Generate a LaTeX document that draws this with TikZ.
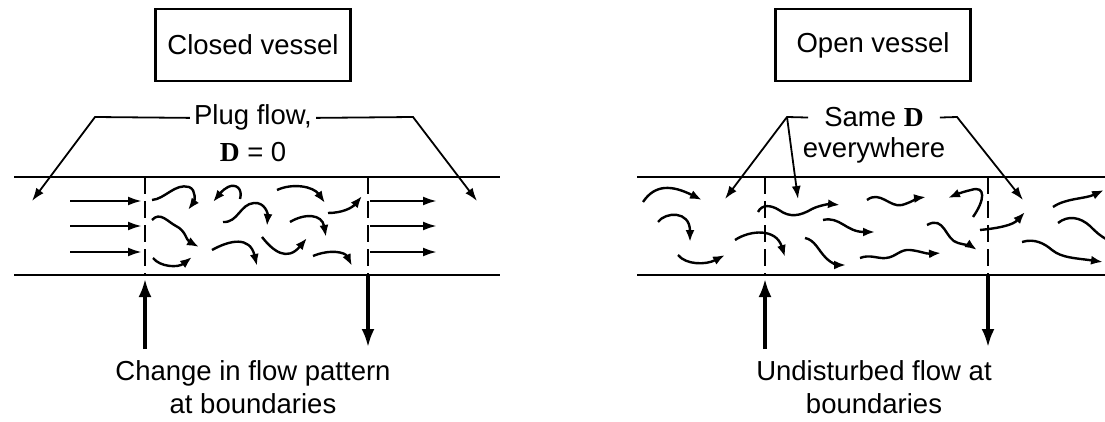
\documentclass[tikz,border=0pt]{standalone}
\usepackage{fontspec}
\setmainfont{Liberation Sans}
\newfontfamily\bfserif{Liberation Serif}
\usetikzlibrary{arrows.meta}
\newcommand{\BoldD}{{\bfserif\bfseries D}}
\begin{document}
\begin{tikzpicture}[x=1pt,y=-1pt,
  txt/.style={font=\fontsize{27.5}{33}\selectfont, inner sep=4pt},
  vesselbox/.style={txt, draw, line width=2.2pt, minimum width=195pt, minimum height=72pt},
  pipe/.style={line width=2.5pt},
  bound/.style={line width=2.2pt, dash pattern=on 17pt off 7pt},
  lead/.style={line width=1.8pt, -{Latex[length=13pt,width=9pt]}},
  flow/.style={line width=2.4pt, -{Latex[length=12pt,width=9pt]}},
  plugarrow/.style={line width=2.4pt, -{Latex[length=14pt,width=9pt]}},
  bigarrow/.style={line width=3.2pt, -{Latex[length=18pt,width=13pt]}},
]
\useasboundingbox (0,0) rectangle (1105,422);

% ---------------- Closed vessel ----------------
\node[vesselbox] (closed) at (253,45) {Closed vessel};
\node[txt, anchor=base] (plug1) at (253,125) {Plug flow,};
\node[txt, anchor=base] (plug2) at (253,162) {\BoldD{} = 0};
\coordinate (cl) at (95,117);
\coordinate (cltip) at (32,201);
\coordinate (cr) at (413,117);
\coordinate (crtip) at (477,201);
\draw[lead] (plug1.west) -- (cl) -- (cltip);
\draw[lead] (plug1.east) -- (cr) -- (crtip);

\coordinate (ctl) at (14,177);  \coordinate (ctr) at (500,177);
\coordinate (cbl) at (14,275);  \coordinate (cbr) at (500,275);
\draw[pipe] (ctl) -- (ctr);
\draw[pipe] (cbl) -- (cbr);

\coordinate (cd1t) at (145,177); \coordinate (cd1b) at (145,275);
\coordinate (cd2t) at (368,177); \coordinate (cd2b) at (368,275);
\draw[bound] (cd1t) -- (cd1b);
\draw[bound] (cd2t) -- (cd2b);

\foreach \yy in {201,226,252}{
  \draw[plugarrow] (70,\yy) -- (142,\yy);
  \draw[plugarrow] (370,\yy) -- (437,\yy);
}

% squiggles (closed)
\draw[flow] (152,200) .. controls (165,199) and (175,183) .. (189,187) .. controls (197,190) and (194,202) .. (188,210);
\draw[flow] (240,199) .. controls (243,189) and (236,183) .. (228,187) .. controls (222,190) and (218,196) .. (213,202);
\draw[flow] (277,190) .. controls (292,183) and (313,186) .. (325,203);
\draw[flow] (328,213) .. controls (342,213) and (352,208) .. (362,196);
\draw[flow] (223,222) .. controls (238,223) and (240,204) .. (254,203) .. controls (265,202) and (268,214) .. (267,226);
\draw[flow] (290,222) .. controls (305,213) and (322,214) .. (326,237);
\draw[flow] (152,220) .. controls (160,211) and (168,222) .. (176,226) .. controls (186,231) and (186,240) .. (199,247);
\draw[flow] (212,250) .. controls (230,240) and (250,236) .. (257,266);
\draw[flow] (262,237) .. controls (273,251) and (287,262) .. (307,238);
\draw[flow] (153,258) .. controls (160,267) and (178,268) .. (192,257);
\draw[flow] (313,256) .. controls (330,249) and (345,252) .. (352,266);

\coordinate (cup0) at (145,349); \coordinate (cup1) at (145,279);
\coordinate (cdn0) at (368,275); \coordinate (cdn1) at (368,347);
\draw[bigarrow] (cup0) -- (cup1);
\draw[bigarrow] (cdn0) -- (cdn1);
\node[txt, anchor=base] (chg1) at (253,380) {Change in flow pattern};
\node[txt, anchor=base] (chg2) at (253,413) {at boundaries};

% ---------------- Open vessel ----------------
\node[vesselbox] (open) at (873,45) {Open vessel};
\node[txt, anchor=base] (same1) at (874,127) {Same \BoldD};
\node[txt, anchor=base] (same2) at (874,158) {everywhere};
\coordinate (ol) at (787,117);
\coordinate (oltip1) at (725,199);
\coordinate (oltip2) at (798,199);
\coordinate (or) at (957,117);
\coordinate (ortip) at (1023,200);
\draw[lead] ([xshift=-12pt]same1.west) -- (ol) -- (oltip1);
\draw[lead] (ol) -- (oltip2);
\draw[lead] ([xshift=12pt]same1.east) -- (or) -- (ortip);

\coordinate (otl) at (637,177);  \coordinate (otr) at (1105,177);
\coordinate (obl) at (637,275);  \coordinate (obr) at (1105,275);
\draw[pipe] (otl) -- (otr);
\draw[pipe] (obl) -- (obr);

\coordinate (od1t) at (765,177); \coordinate (od1b) at (765,275);
\coordinate (od2t) at (988,177); \coordinate (od2b) at (988,275);
\draw[bound] (od1t) -- (od1b);
\draw[bound] (od2t) -- (od2b);

% squiggles (open)
\draw[flow] (643,202) .. controls (655,184) and (672,185) .. (702,200);
\draw[flow] (658,222) .. controls (665,212) and (690,210) .. (690,242);
\draw[flow] (678,255) .. controls (686,265) and (706,265) .. (725,255);
\draw[flow] (758,212) .. controls (762,204) and (771,205) .. (779,210) .. controls (790,218) and (800,216) .. (812,209) .. controls (820,205) and (830,204) .. (840,205);
\draw[flow] (735,240) .. controls (750,230) and (776,228) .. (785,257);
\draw[flow] (805,238) .. controls (815,240) and (818,250) .. (826,258) .. controls (832,264) and (838,265) .. (846,265);
\draw[flow] (823,220) .. controls (840,216) and (846,232) .. (875,232);
\draw[flow] (867,200) .. controls (880,190) and (890,208) .. (902,205) .. controls (912,202) and (918,198) .. (926,197);
\draw[flow] (860,258) .. controls (870,254) and (878,259) .. (886,258) .. controls (896,257) and (900,249) .. (910,250) .. controls (920,251) and (926,254) .. (941,253);
\draw[flow] (973,217) .. controls (985,200) and (986,185) .. (971,190) .. controls (962,192) and (955,195) .. (948,198);
\draw[flow] (927,225) .. controls (945,215) and (945,240) .. (958,243) .. controls (966,245) and (971,246) .. (977,250);
\draw[flow] (980,230) .. controls (1000,228) and (1013,225) .. (1025,212);
\draw[flow] (1053,207) .. controls (1066,198) and (1085,199) .. (1104,190);
\draw[line width=2.4pt] (1058,223) .. controls (1068,215) and (1080,217) .. (1090,226) .. controls (1096,232) and (1100,236) .. (1108,240);
\draw[flow] (1022,242) .. controls (1035,238) and (1045,244) .. (1052,250) .. controls (1062,258) and (1075,258) .. (1103,262);

\coordinate (oup0) at (765,349); \coordinate (oup1) at (765,279);
\coordinate (odn0) at (988,275); \coordinate (odn1) at (988,347);
\draw[bigarrow] (oup0) -- (oup1);
\draw[bigarrow] (odn0) -- (odn1);
\node[txt, anchor=base] (und1) at (874,380) {Undisturbed flow at};
\node[txt, anchor=base] (und2) at (874,413) {boundaries};
\end{tikzpicture}
\end{document}
